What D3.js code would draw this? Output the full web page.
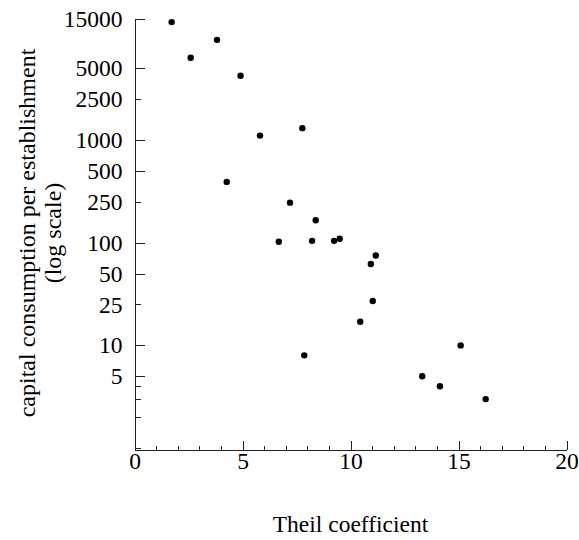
<!DOCTYPE html>
<html>
<head>
<meta charset="utf-8">
<script src="https://cdn.jsdelivr.net/npm/d3@7"></script>
<style>
  body { margin: 0; background: #fff; }
  svg text { font-family: "Liberation Serif", "Times New Roman", serif; fill: #000; }
  .axis path, .axis line { stroke: #222; stroke-width: 1; shape-rendering: crispEdges; }
  .axis text { font-size: 23.5px; }
  .axisTitle { font-size: 24px; }
</style>
</head>
<body>
<div id="chart"></div>
<script>

// data
var theil = [1.72, 2.60, 3.82, 4.91, 5.81, 4.27, 7.77, 7.20, 8.39, 6.68, 8.22,
             9.24, 9.50, 11.17, 10.94, 11.03, 10.45, 7.86, 13.32, 15.10, 14.14, 16.26];
var capital = [14000, 6300, 9400, 4200, 1100, 390, 1300, 245, 165, 102, 104,
               104, 109, 75, 62, 27, 17, 8, 5, 10, 4, 3];

var xTicks = [0, 5, 10, 15, 20];
var xMinorTicks = [1, 2, 3, 4, 6, 7, 8, 9, 11, 12, 13, 14, 16, 17, 18, 19];
var yTicks = [5, 10, 25, 50, 100, 250, 500, 1000, 2500, 5000, 15000];
var yShortTicks = [25, 250, 2500];
var yMinorTicks = [1, 2, 3, 4];

var width = 579, height = 540;
var margin = { left: 134.5, right: 566.5, top: 19, bottom: 449.5 };

var svg = d3.select("#chart").append("svg")
    .attr("width", width)
    .attr("height", height);

var x = d3.scaleLinear().domain([0, 20]).range([margin.left, margin.right]);
var y = d3.scaleLog().domain([0.97, 15000]).range([margin.bottom, margin.top]);

// y axis, ticks pointing inside
var yAxis = d3.axisLeft(y)
    .tickValues(yTicks)
    .tickFormat(function (d) { return d; })
    .tickSize(-10)
    .tickSizeOuter(0)
    .tickPadding(12);

var gy = svg.append("g")
    .attr("class", "axis")
    .attr("transform", "translate(" + margin.left + ",0)")
    .call(yAxis);

gy.selectAll(".tick line")
    .attr("x2", function (d) { return yShortTicks.indexOf(d) >= 0 ? 6 : 10; });

svg.append("g")
    .attr("class", "axis")
    .attr("transform", "translate(" + margin.left + ",0)")
    .call(d3.axisLeft(y).tickValues(yMinorTicks).tickFormat("").tickSize(-6).tickSizeOuter(0))
    .select(".domain").remove();

// x axis
svg.append("g")
    .attr("class", "axis")
    .attr("transform", "translate(0," + margin.bottom + ")")
    .call(d3.axisBottom(x).tickValues(xTicks).tickSize(-9).tickSizeOuter(0).tickPadding(3));

svg.append("g")
    .attr("class", "axis")
    .attr("transform", "translate(0," + margin.bottom + ")")
    .call(d3.axisBottom(x).tickValues(xMinorTicks).tickFormat("").tickSize(-4).tickSizeOuter(0))
    .select(".domain").remove();

// points
svg.selectAll("circle.dot")
    .data(theil)
    .enter().append("circle")
    .attr("class", "dot")
    .attr("cx", function (d) { return x(d); })
    .attr("cy", function (d, i) { return y(capital[i]); })
    .attr("r", 3.2)
    .attr("fill", "#000");

// axis titles
var yTitle = svg.append("text")
    .attr("class", "axisTitle")
    .attr("transform", "translate(35,233) rotate(-90)")
    .attr("text-anchor", "middle");
yTitle.append("tspan").attr("x", 0).attr("y", 0).text("capital consumption per establishment");
yTitle.append("tspan").attr("x", 0).attr("y", 26).text("(log scale)");

svg.append("text")
    .attr("class", "axisTitle")
    .attr("x", (margin.left + margin.right) / 2)
    .attr("y", 532)
    .attr("text-anchor", "middle")
    .style("font-size", "23.5px")
    .text("Theil coefficient");

</script>
</body>
</html>
